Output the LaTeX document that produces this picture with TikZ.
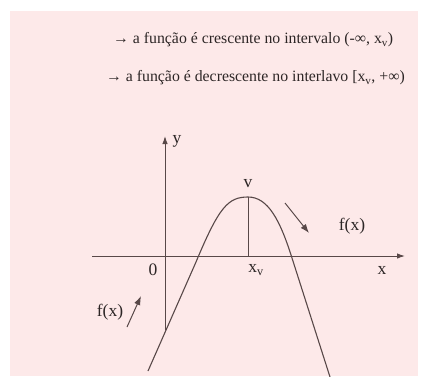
\documentclass[tikz,border=0pt]{standalone}
\usepackage{fontspec}
\setmainfont{Liberation Serif}
\usetikzlibrary{arrows.meta}
\definecolor{bg}{RGB}{253,233,233}
\definecolor{ln}{RGB}{88,72,72}
\definecolor{tx}{RGB}{45,38,38}
\begin{document}
\begin{tikzpicture}[x=1pt,y=-1pt,
  axis/.style={draw=ln, line width=1pt},
  curve/.style={draw=ln, line width=1.1pt},
  tip/.style={-{Latex[length=8pt,width=5.5pt]}},
  bigtip/.style={-{Latex[length=9pt,width=6.5pt]}},
  txt/.style={text=tx, inner sep=0pt},
  hline/.style={txt, anchor=west, font=\fontsize{15.8}{18}\selectfont},
  lab/.style={txt, font=\fontsize{17.5}{19}\selectfont}]
\useasboundingbox (0,0) rectangle (421,376);
\fill[bg] (10,11) rectangle (418,376);
% text lines
\node[hline] (l1) at (113,40) {→ a função é crescente no intervalo (-∞, x\textsubscript{v})};
\node[hline] (l2) at (106,78) {→ a função é decrescente no interlavo [x\textsubscript{v}, +∞)};
% axes
\coordinate (ytop) at (165,136);
\coordinate (ybot) at (165,330);
\coordinate (xl) at (92,256);
\coordinate (xr) at (405,256);
\draw[axis,tip] (ybot) -- (ytop);
\draw[axis,tip] (xl) -- (xr);
% parabola
\coordinate (pl) at (148,371);
\coordinate (pla) at (196,262);
\coordinate (vx) at (248,197);
\coordinate (vxa) at (248,256);
\coordinate (pra) at (292,258);
\coordinate (pr) at (330,377);
\draw[axis] (vx) -- (vxa);
\draw[curve] (pl) -- (pla) .. controls (219,207) and (228,197) .. (vx)
  .. controls (268,197) and (280,220) .. (pra) -- (pr);
% labels
\node[lab] (ly) at (177,141) {y};
\node[lab] (lv) at (248,184) {v};
\node[lab] (l0) at (153,270) {0};
\node[lab] (lxv) at (256,270) {x\textsubscript{v}};
\node[lab] (lx) at (382,270) {x};
\node[lab] (fr) at (352,226) {f(x)};
\node[lab] (fl) at (110,312) {f(x)};
% trend arrows
\coordinate (ar1) at (285,203);
\coordinate (ar2) at (309,233);
\coordinate (al1) at (127,327);
\coordinate (al2) at (141,296);
\draw[axis,bigtip] (ar1) -- (ar2);
\draw[axis,bigtip] (al1) -- (al2);
\end{tikzpicture}
\end{document}
